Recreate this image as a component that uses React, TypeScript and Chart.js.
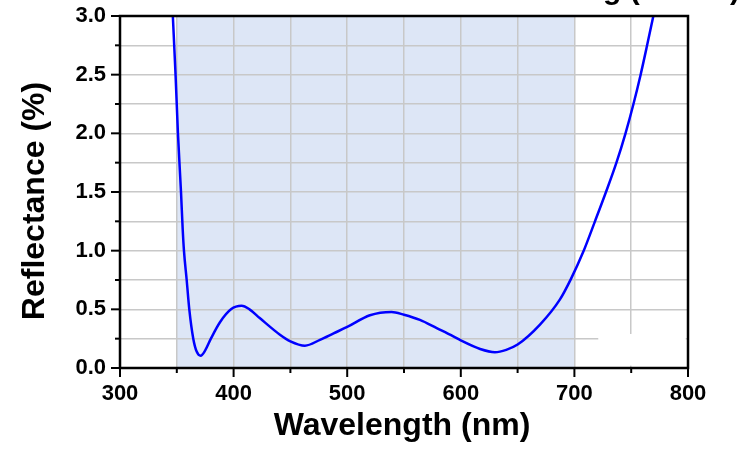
import React, { useEffect, useRef } from "react";
import { Chart, registerables } from "chart.js";

Chart.register(...registerables);

// Wavelength (nm) and reflectance (%)
const wavelengths = [
  346.5, 348.9, 351, 353.7, 355.2, 356.3, 358.7, 361, 364.5, 367.5, 371, 375,
  380, 388, 397.7, 407, 414, 423, 440.8, 450, 462.8, 476, 488, 500, 520, 539,
  550, 564, 578.8, 593.4, 600, 617, 630, 640, 650, 669.7, 687.3, 697, 707.8,
  718.1, 727.8, 737, 745, 752, 758.3, 764, 769.5,
];
const reflectance = [
  3.0, 2.5, 2.0, 1.5, 1.18, 1.0, 0.75, 0.5, 0.25, 0.14, 0.105, 0.15, 0.25, 0.39,
  0.5, 0.53, 0.5, 0.426, 0.284, 0.227, 0.19, 0.24, 0.295, 0.35, 0.45, 0.478,
  0.454, 0.41, 0.34, 0.27, 0.235, 0.162, 0.135, 0.155, 0.2, 0.37, 0.585, 0.76,
  0.99, 1.25, 1.5, 1.75, 2.0, 2.25, 2.5, 2.75, 3.0,
];
const xTickLabels = ["300", "400", "500", "600", "700", "800"];
const yTickLabels = ["0.0", "0.5", "1.0", "1.5", "2.0", "2.5", "3.0"];
const bandStart = 350;
const bandEnd = 700;
const xTitle = "Wavelength (nm)";
const yTitle = "Reflectance (%)";
const topTitle = "AR Coating (AOI 0°)";

const FONT = "'Liberation Sans', Arial, sans-serif";

export default function App() {
  const ref = useRef<HTMLCanvasElement | null>(null);
  useEffect(() => {
    if (!ref.current) return;
    const plugin = {
      id: "custom",
      beforeDraw(chart: any) {
        const { ctx, chartArea, scales } = chart;
        const x = scales.x;
        ctx.save();
        ctx.fillStyle = "#dde6f6";
        const x0 = x.getPixelForValue(bandStart);
        const x1 = x.getPixelForValue(bandEnd);
        ctx.fillRect(x0, chartArea.top, x1 - x0, chartArea.bottom - chartArea.top);
        ctx.restore();
      },
      beforeDatasetsDraw(chart: any) {
        const { ctx, scales } = chart;
        const x = scales.x;
        const y = scales.y;
        ctx.save();
        ctx.fillStyle = "#ffffff";
        const a = x.getPixelForValue(721);
        const b = x.getPixelForValue(798);
        const t = y.getPixelForValue(0.29);
        const bt = y.getPixelForValue(0.02);
        ctx.fillRect(a, t, b - a, bt - t);
        ctx.restore();
      },
      afterDraw(chart: any) {
        const { ctx, chartArea, scales } = chart;
        const x = scales.x;
        const y = scales.y;
        ctx.save();
        ctx.strokeStyle = "#000";
        ctx.lineWidth = 2.5;
        ctx.strokeRect(
          chartArea.left,
          chartArea.top,
          chartArea.right - chartArea.left,
          chartArea.bottom - chartArea.top
        );
        ctx.lineWidth = 2;
        for (let v = 300; v <= 800; v += 50) {
          const px = x.getPixelForValue(v);
          const len = v % 100 === 0 ? 9 : 5;
          ctx.beginPath();
          ctx.moveTo(px, chartArea.bottom);
          ctx.lineTo(px, chartArea.bottom + len);
          ctx.stroke();
        }
        for (let i = 0; i <= 12; i++) {
          const v = i * 0.25;
          const py = y.getPixelForValue(v);
          const len = i % 2 === 0 ? 9 : 5;
          ctx.beginPath();
          ctx.moveTo(chartArea.left, py);
          ctx.lineTo(chartArea.left - len, py);
          ctx.stroke();
        }
        ctx.fillStyle = "#000";
        ctx.font = `bold 32px ${FONT}`;
        ctx.textAlign = "center";
        ctx.textBaseline = "alphabetic";
        ctx.fillText(xTitle, 402, 435);
        ctx.save();
        ctx.translate(44, 201);
        ctx.rotate(-Math.PI / 2);
        ctx.fillText(yTitle, 0, 0);
        ctx.restore();
        ctx.font = `bold 30px ${FONT}`;
        ctx.textAlign = "right";
        ctx.fillText(topTitle, 740, -1);
        ctx.restore();
      },
    };
    const chart = new Chart(ref.current, {
      type: "scatter",
      data: {
        datasets: [
          {
            data: wavelengths.map((w, i) => ({ x: w, y: reflectance[i] })),
            showLine: true,
            borderColor: "#0000ff",
            borderWidth: 2.5,
            pointRadius: 0,
            cubicInterpolationMode: "monotone",
            fill: false,
          },
        ],
      },
      options: {
        animation: false,
        responsive: false,
        layout: { padding: { top: 16, right: 56, left: 0, bottom: 0 } },
        plugins: { legend: { display: false }, tooltip: { enabled: false } },
        scales: {
          x: {
            type: "linear",
            min: 300,
            max: 800,
            afterFit: (s: any) => {
              s.height = 103;
              s.paddingLeft = 0;
              s.paddingRight = 0;
            },
            border: { display: false },
            grid: { color: "#c8c8c8", lineWidth: 1.5, drawTicks: false },
            ticks: {
              stepSize: 50,
              padding: 13,
              autoSkip: false,
              maxRotation: 0,
              color: "#000",
              font: { family: FONT, size: 22, weight: "bold" },
              callback: (v: any) => {
                const s = String(v);
                return xTickLabels.includes(s) ? s : "";
              },
            },
          },
          y: {
            type: "linear",
            min: 0,
            max: 3,
            afterFit: (s: any) => {
              s.width = 120;
              s.paddingTop = 0;
              s.paddingBottom = 0;
            },
            border: { display: false },
            grid: { color: "#c8c8c8", lineWidth: 1.5, drawTicks: false },
            ticks: {
              stepSize: 0.25,
              padding: 14,
              autoSkip: false,
              color: "#000",
              font: { family: FONT, size: 22, weight: "bold" },
              callback: (v: any) => {
                const n = Number(v);
                const s = n.toFixed(1);
                return Math.abs(n * 2 - Math.round(n * 2)) < 1e-6 && yTickLabels.includes(s)
                  ? s
                  : "";
              },
            },
          },
        },
      },
      plugins: [plugin],
    } as any);
    return () => chart.destroy();
  }, []);
  return (
    <div style={{ position: "fixed", left: 0, top: 0, width: 744, height: 471, background: "#fff" }}>
      <canvas ref={ref} width={744} height={471} />
    </div>
  );
}
